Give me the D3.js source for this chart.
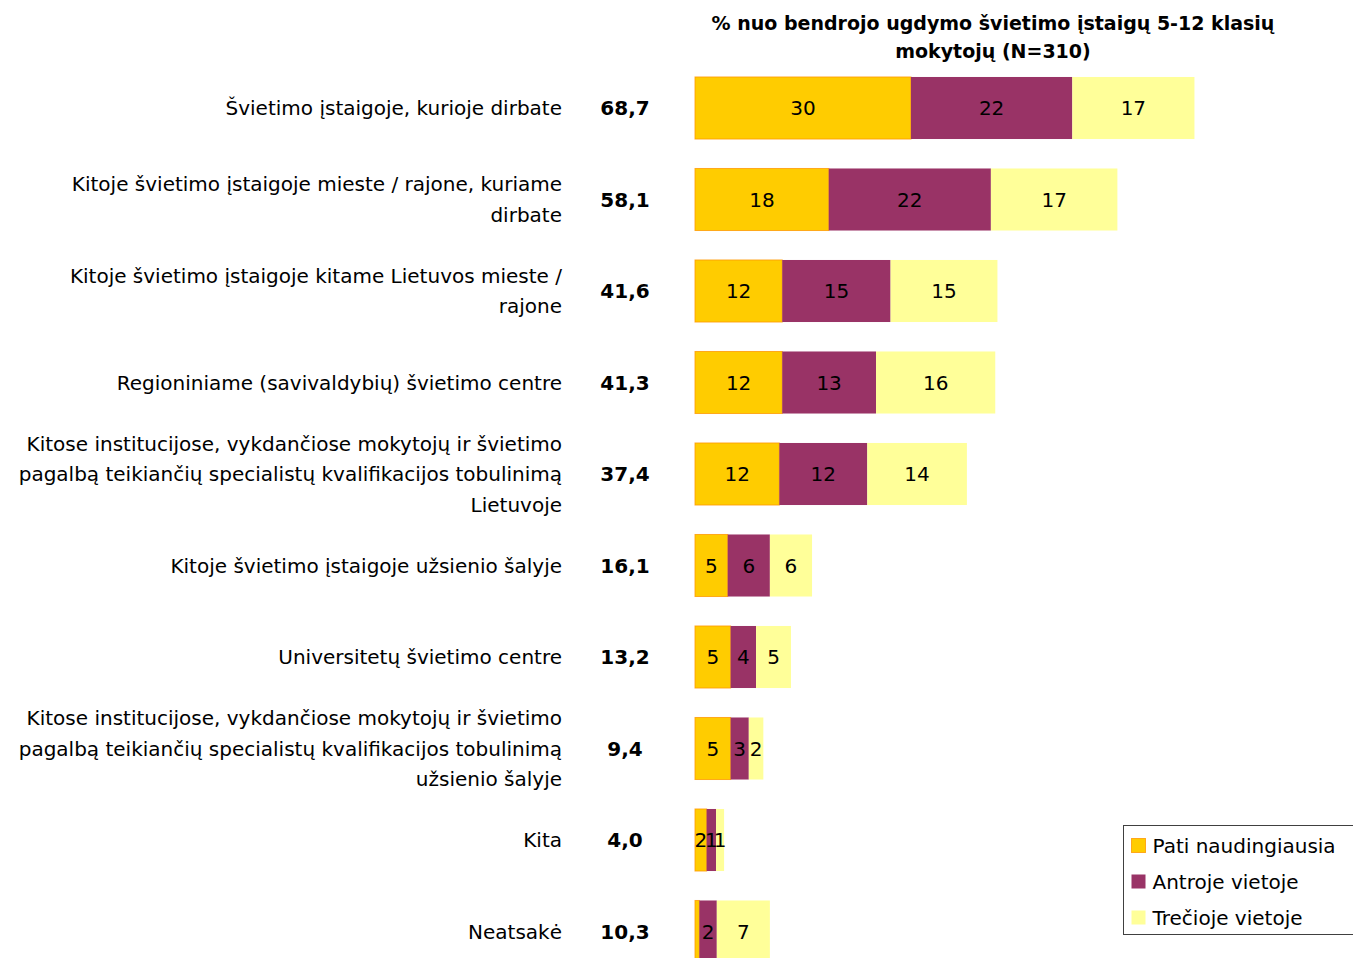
<!DOCTYPE html>
<html>
<head>
<meta charset="utf-8">
<script src="https://cdn.jsdelivr.net/npm/d3@7"></script>
<style>
  html, body { margin: 0; padding: 0; background: #fff; }
  svg { display: block; font-family: Tahoma, "DejaVu Sans", sans-serif; }
</style>
</head>
<body>
<svg id="chart" width="1353" height="958"></svg>
<script>
// Category labels (line breaks mark wrapped lines)
const categories = [
  "Švietimo įstaigoje, kurioje dirbate",
  "Kitoje švietimo įstaigoje mieste / rajone, kuriame\ndirbate",
  "Kitoje švietimo įstaigoje kitame Lietuvos mieste /\nrajone",
  "Regioniniame (savivaldybių) švietimo centre",
  "Kitose institucijose, vykdančiose mokytojų ir švietimo\npagalbą teikiančių specialistų kvalifikacijos tobulinimą\nLietuvoje",
  "Kitoje švietimo įstaigoje užsienio šalyje",
  "Universitetų švietimo centre",
  "Kitose institucijose, vykdančiose mokytojų ir švietimo\npagalbą teikiančių specialistų kvalifikacijos tobulinimą\nužsienio šalyje",
  "Kita",
  "Neatsakė"
];

// Series values, % of respondents
const seriesNames = ["Pati naudingiausia", "Antroje vietoje", "Trečioje vietoje"];
const first  = [29.7, 18.4, 12.0, 12.0, 11.6, 4.5, 4.9, 4.9, 1.6, 0.6];
const second = [22.2, 22.3, 14.9, 12.9, 12.1, 5.8, 3.5, 2.5, 1.3, 2.4];
const third  = [16.8, 17.4, 14.7, 16.4, 13.7, 5.8, 4.8, 2.0, 1.1, 7.3];
const totals = [68.7, 58.1, 41.6, 41.3, 37.4, 16.1, 13.2, 9.4, 4.0, 10.3];

const title = ["% nuo bendrojo ugdymo švietimo įstaigų 5-12 klasių", "mokytojų (N=310)"];

const colors = ["#FFCC00", "#993366", "#FFFF99"];

const svg = d3.select("#chart");

const y = d3.scaleBand()
  .domain(categories)
  .range([62.25, 977.25])
  .paddingInner(0.322)
  .paddingOuter(0.161);

const x = d3.scaleLinear().domain([0, 100]).range([695, 1422]);

const rows = categories.map((c, i) => ({ cat: c, vals: [first[i], second[i], third[i]], total: totals[i] }));
const stack = d3.stack().keys([0, 1, 2]).value((d, k) => d.vals[k]);
const layers = stack(rows);

// Title
svg.append("g").selectAll("text").data(title).join("text")
  .attr("x", 993).attr("y", (d, i) => 23 + i * 28)
  .attr("text-anchor", "middle").attr("dominant-baseline", "central")
  .attr("font-size", 19).attr("font-weight", "bold").attr("fill", "#000")
  .text(d => d);

// Stacked bars
const layerG = svg.append("g").selectAll("g").data(layers).join("g")
  .attr("fill", (d, i) => colors[i]);

layerG.selectAll("rect").data(d => d.map(p => ({ p, key: d.key }))).join("rect")
  .attr("x", d => x(d.p[0]))
  .attr("y", d => y(d.p.data.cat))
  .attr("width", d => x(d.p[1]) - x(d.p[0]))
  .attr("height", y.bandwidth())
  .attr("stroke", d => d.key === 0 ? "#FF9900" : "none")
  .attr("stroke-width", d => d.key === 0 ? 1 : 0)
  .attr("stroke-opacity", 0.8);

// Segment value labels
layerG.selectAll("text").data(d => d.map(p => ({ p, key: d.key }))).join("text")
  .filter(d => d.p[1] - d.p[0] >= 1)
  .attr("x", d => (x(d.p[0]) + x(d.p[1])) / 2)
  .attr("y", d => y(d.p.data.cat) + y.bandwidth() / 2)
  .attr("text-anchor", "middle").attr("dominant-baseline", "central")
  .attr("font-size", 20).attr("fill", "#000")
  .text(d => d3.format(".0f")(d.p[1] - d.p[0]));

// Category labels
const lineH = 30.5;
const labG = svg.append("g").selectAll("text").data(rows).join("text")
  .attr("text-anchor", "end").attr("font-size", 20).attr("fill", "#000")
  .attr("dominant-baseline", "central");
labG.each(function(d) {
  const lines = d.cat.split("\n");
  const cy = y(d.cat) + y.bandwidth() / 2;
  d3.select(this).selectAll("tspan").data(lines).join("tspan")
    .attr("x", 562)
    .attr("y", (l, j) => cy + (j - (lines.length - 1) / 2) * lineH)
    .text(l => l);
});

// Totals
svg.append("g").selectAll("text").data(rows).join("text")
  .attr("x", 625)
  .attr("y", d => y(d.cat) + y.bandwidth() / 2)
  .attr("text-anchor", "middle").attr("dominant-baseline", "central")
  .attr("font-size", 20).attr("font-weight", "bold").attr("fill", "#000")
  .text(d => d3.format(".1f")(d.total).replace(".", ","));

// Legend
const lg = svg.append("g").attr("transform", "translate(1123.5,825.5)");
lg.append("rect").attr("width", 240).attr("height", 109)
  .attr("fill", "#fff").attr("stroke", "#404040").attr("stroke-width", 1);
const li = lg.selectAll("g").data(seriesNames).join("g")
  .attr("transform", (d, i) => `translate(8,${20 + i * 36})`);
li.append("rect").attr("x", 0).attr("y", -7).attr("width", 14).attr("height", 14)
  .attr("fill", (d, i) => colors[i])
  .attr("stroke", (d, i) => i === 0 ? "#FF9900" : "none").attr("stroke-opacity", 0.8);
li.append("text").attr("x", 21).attr("y", 0).attr("dominant-baseline", "central")
  .attr("font-size", 20).attr("fill", "#000").text(d => d);
</script>
</body>
</html>
